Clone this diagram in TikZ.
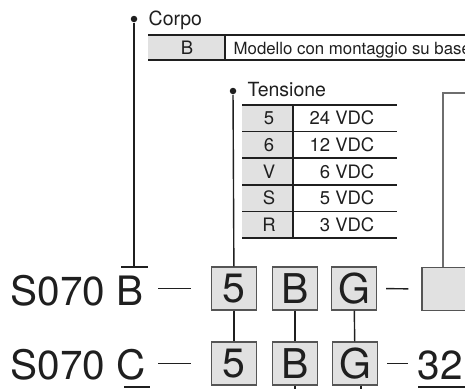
\documentclass[tikz,border=0pt]{standalone}
\usepackage{fontspec}
\setmainfont{TeX Gyre Heros}
\usetikzlibrary{calc}
\definecolor{cellgray}{RGB}{225,225,225}
\definecolor{boxline}{RGB}{85,85,85}
\definecolor{leadgray}{RGB}{110,110,110}
\tikzset{
  codebox/.style={draw=boxline, line width=1.3pt, fill=cellgray, inner sep=0pt,
    minimum width=45pt, minimum height=43pt, font=\fontsize{41}{41}\selectfont},
  big/.style={inner sep=0pt, anchor=base west, font=\fontsize{40.5}{41}\selectfont},
  label/.style={inner sep=0pt, anchor=base west, font=\fontsize{19.5}{20}\selectfont},
  cell/.style={inner sep=0pt, anchor=base, font=\fontsize{18.5}{19}\selectfont},
  desc/.style={inner sep=0pt, anchor=base west, font=\fontsize{16.8}{17}\selectfont},
  pin/.style={circle, fill, inner sep=0pt, minimum size=6.5pt},
  rule/.style={line width=1.6pt},
}

\begin{document}
\begin{tikzpicture}[x=1pt, y=-1pt, line width=1.4pt, color=black!88]
  \def\rowh{26.6}
  \def\ttop{105}

  \useasboundingbox (0,0) rectangle (465,388);
  \clip (0,0) rectangle (465,388);

  % Corpo
  \node[pin] (cpin) at (134,19) {};
  \node[label] (corpo) at (148,25) {Corpo};
  \fill[cellgray] (148,35) rectangle (225,60);
  \draw[rule] (148,35) -- (470,35) (148,60) -- (470,60);
  \draw (225,35) -- (225,60);
  \node[cell] (kB) at (187,54.2) {B};
  \node[desc] (dB) at (233,54.2) {Modello con montaggio su base};

  % Tensione
  \node[pin] (tpin) at (233,91) {};
  \node[label] (tens) at (247,96) {Tensione};
  \fill[cellgray] (242,\ttop) rectangle (293,{\ttop+5*\rowh});
  \draw[rule] (242,\ttop) -- (397,\ttop);
  \draw (293,\ttop) -- (293,{\ttop+5*\rowh});
  \foreach \k/\v [count=\i] in {5/24,6/12,V/6,S/5,R/3} {
    \node[cell] (k\i) at (269,{\ttop+\i*\rowh-6.7}) {\k};
    \node[cell, anchor=base east] (v\i) at (375,{\ttop+\i*\rowh-6.7}) {\v\ VDC};
    \draw[rule] (242,{\ttop+\i*\rowh}) -- (397,{\ttop+\i*\rowh});
  }

  % codes
  \node[big] (s1) at (10,305) {S070 B};
  \node[big] (s2) at (10,379) {S070 C};

  \node[codebox] (a5) at (234,288.5) {5};
  \node[codebox] (aB) at (295,288.5) {B};
  \node[codebox] (aG) at (354,288.5) {G};
  \node[codebox] (ax) at (444.5,289) {};

  \node[codebox] (c5) at (234,363.5) {5};
  \node[codebox] (cB) at (295,363.5) {B};
  \node[codebox] (cG) at (355,363.5) {G};
  \node[big] (n32) at (417,379) {32};

  \coordinate (cbar) at (134,267);
  \coordinate (xtop) at (443,93);

  \draw (cpin) -- (cbar);
  \draw (121,267) -- (148,267);
  \draw (tpin) -- (a5);
  \draw[leadgray] (ax.north -| xtop) -- (xtop) -- (470,93);

  \draw[shorten <=14pt, shorten >=20pt] (s1.east |- a5) -- (a5.west);
  \draw[shorten <=9pt, shorten >=13pt] (aG.east) -- (ax.west);
  \draw[shorten <=12pt, shorten >=20pt] (s2.east |- c5) -- (c5.west);
  \draw[shorten <=9pt, shorten >=9pt] (cG.east) -- (n32.west |- cG);

  \draw (a5) -- (c5);
  \draw (aB) -- (cB);
  \draw (aG) -- (cG);
  \draw (cB.south) -- ++(0,6);
  \draw (cG.south -| 361,0) -- ++(0,6);

  \draw (124,387) -- (150,387);
  \draw (418,387) -- (470,387);
\end{tikzpicture}
\end{document}
